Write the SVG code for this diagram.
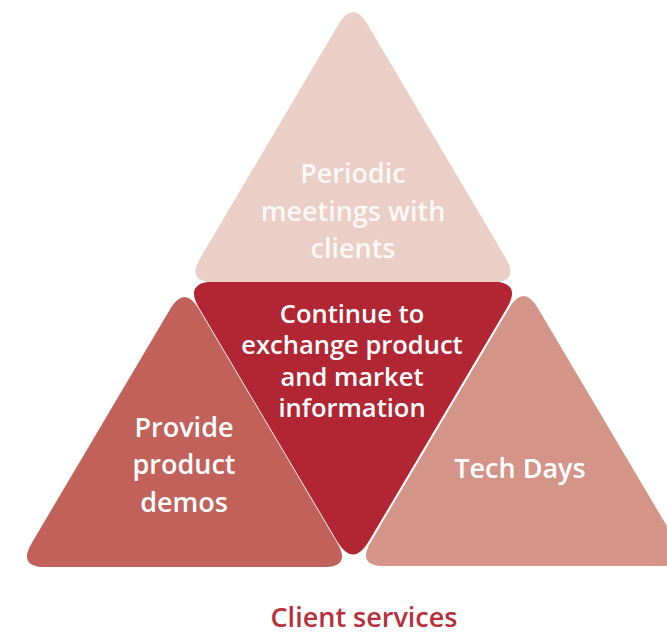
<svg xmlns="http://www.w3.org/2000/svg" width="667" height="635" viewBox="0 0 667 635">
<style>
.t{font-family:"Open Sans","Noto Sans","Liberation Sans",sans-serif;text-anchor:middle;fill:#ffffff;font-weight:600}
.big{font-size:27px}
.mid{font-size:25.5px}
.title{font-family:"Open Sans","Noto Sans","Liberation Sans",sans-serif;text-anchor:middle;fill:#b7303c;font-size:27px;font-weight:600}
</style>
<defs>
<path id="tri" d="M14.27,24.09 L152.73,257.91 Q167,282 139,282 L-139,282 Q-167,282 -152.73,257.91 L-14.27,24.09 Q0,0 14.27,24.09 Z"/>
</defs>
<rect width="667" height="635" fill="#ffffff"/>
<g id="connectors"></g>
<g id="node-center">
<use href="#tri" transform="translate(353,565) scale(1,-1)" fill="#b22634" stroke="#b22634" stroke-width="3"/>
</g>
<g id="node-top">
<use href="#tri" transform="translate(353,0)" fill="#ebcec5"/>
<text class="t big" fill-opacity="0.9"><tspan x="353" y="183">Periodic</tspan><tspan x="353" y="221">meetings with</tspan><tspan x="353" y="258">clients</tspan></text>
</g>
<g id="node-left">
<use href="#tri" transform="translate(184.5,285)" fill="#c1615a"/>
<text class="t big"><tspan x="184" y="437">Provide</tspan><tspan x="184" y="474">product</tspan><tspan x="184" y="512">demos</tspan></text>
</g>
<g id="node-right">
<use href="#tri" transform="translate(523.5,284)" fill="#d59488"/>
<text class="t big" x="520" y="478">Tech Days</text>
</g>
<g id="node-center-label">
<text class="t mid"><tspan x="352" y="323">Continue to</tspan><tspan x="352" y="354">exchange product</tspan><tspan x="352" y="386">and market</tspan><tspan x="352" y="417">information</tspan></text>
</g>
<g id="caption">
<text class="title" x="364" y="627">Client services</text>
</g>
</svg>
